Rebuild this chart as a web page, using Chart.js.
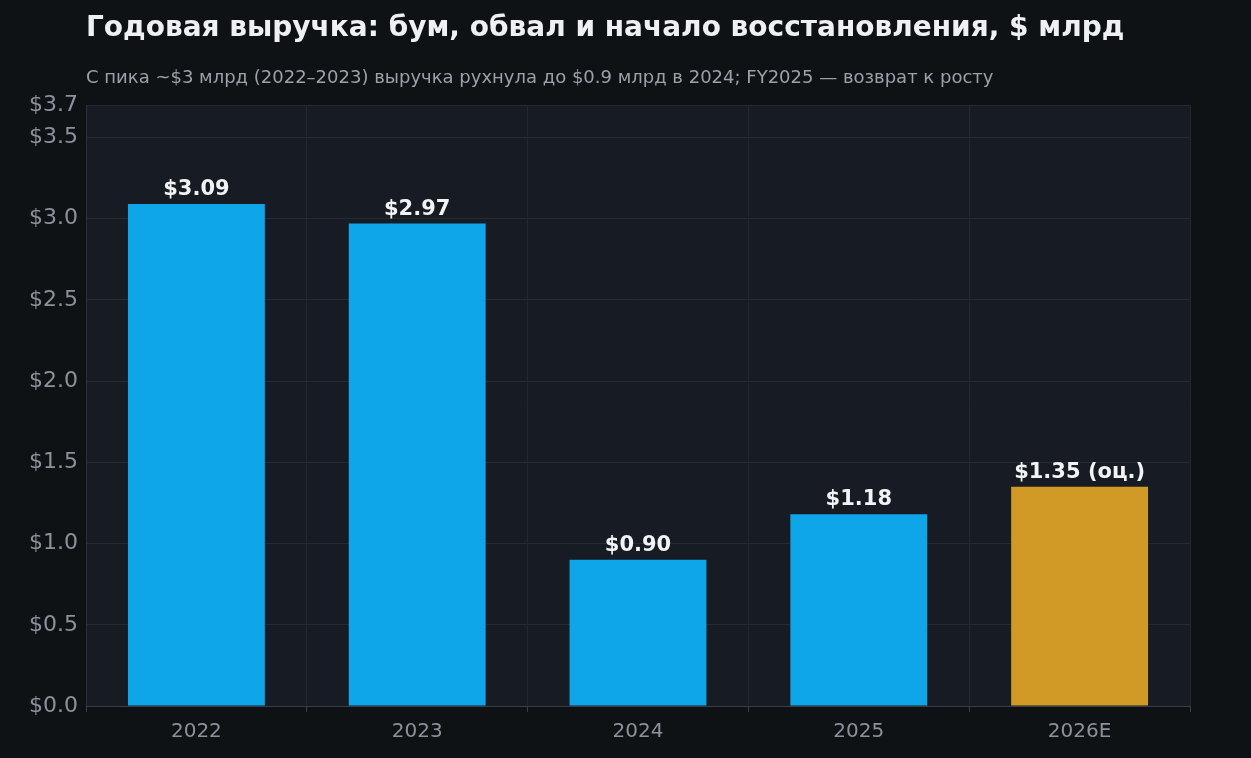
<!DOCTYPE html>
<html><head><meta charset="utf-8">
<script src="https://cdn.jsdelivr.net/npm/chart.js@4"></script>
<style>
html,body{margin:0;padding:0;background:#0f1215;width:1251px;height:758px;overflow:hidden;font-family:"DejaVu Sans",sans-serif}
#t{position:absolute;left:86px;top:10px;color:#eef0f3;font-size:28px;font-weight:bold;white-space:nowrap}
#s{position:absolute;left:86px;top:66px;color:#9aa1ab;font-size:18px;white-space:nowrap}
#w{position:absolute;left:0;top:0;width:1251px;height:758px}
</style></head><body>
<div id="w"><canvas id="c"></canvas></div>
<div id="t">Годовая выручка: бум, обвал и начало восстановления, $ млрд</div>
<div id="s">С пика ~$3 млрд (2022–2023) выручка рухнула до $0.9 млрд в 2024; FY2025 — возврат к росту</div>
<script>
const categories=["2022","2023","2024","2025","2026E"];
const revenue=[3.09,2.97,0.90,1.18,1.35];
const labels=["$3.09","$2.97","$0.90","$1.18","$1.35 (оц.)"];
const colors=["#0ea5e9","#0ea5e9","#0ea5e9","#0ea5e9","#d19a26"];
const bg={id:'bg',beforeDraw(ch){const a=ch.chartArea,x=ch.ctx;x.save();x.fillStyle='#171b23';x.fillRect(a.left,a.top,a.right-a.left,a.bottom-a.top);x.restore();}};
const lbl={id:'lbl',afterDatasetsDraw(ch){const x=ch.ctx;x.save();x.font='bold 21px "DejaVu Sans"';x.fillStyle='#f1f3f5';x.textAlign='center';x.textBaseline='bottom';
ch.getDatasetMeta(0).data.forEach((b,i)=>x.fillText(labels[i],b.x,b.y-4));x.restore();}};
new Chart(document.getElementById('c'),{type:'bar',
data:{labels:categories,datasets:[{data:revenue,backgroundColor:colors,barPercentage:0.62,categoryPercentage:1}]},
options:{responsive:true,maintainAspectRatio:false,animation:false,
layout:{padding:{top:105,right:61,left:0,bottom:0}},
plugins:{legend:{display:false},tooltip:{enabled:false}},
scales:{
y:{min:0,max:3.7,ticks:{stepSize:0.5,color:'#8b929c',font:{size:22,family:'DejaVu Sans'},callback:v=>'$'+v.toFixed(1),padding:8},
grid:{color:'#252a33',drawTicks:false},border:{color:'#2c3139'},afterFit:s=>{s.width=86;}},
x:{ticks:{color:'#8b929c',font:{size:20,family:'DejaVu Sans'},padding:8},grid:{color:'#232830',drawTicks:true,tickLength:6,tickColor:'#3a3f47'},border:{color:'#3a3f47'},afterFit:s=>{s.height=52;}}
}},plugins:[bg,lbl]});
</script></body></html>
